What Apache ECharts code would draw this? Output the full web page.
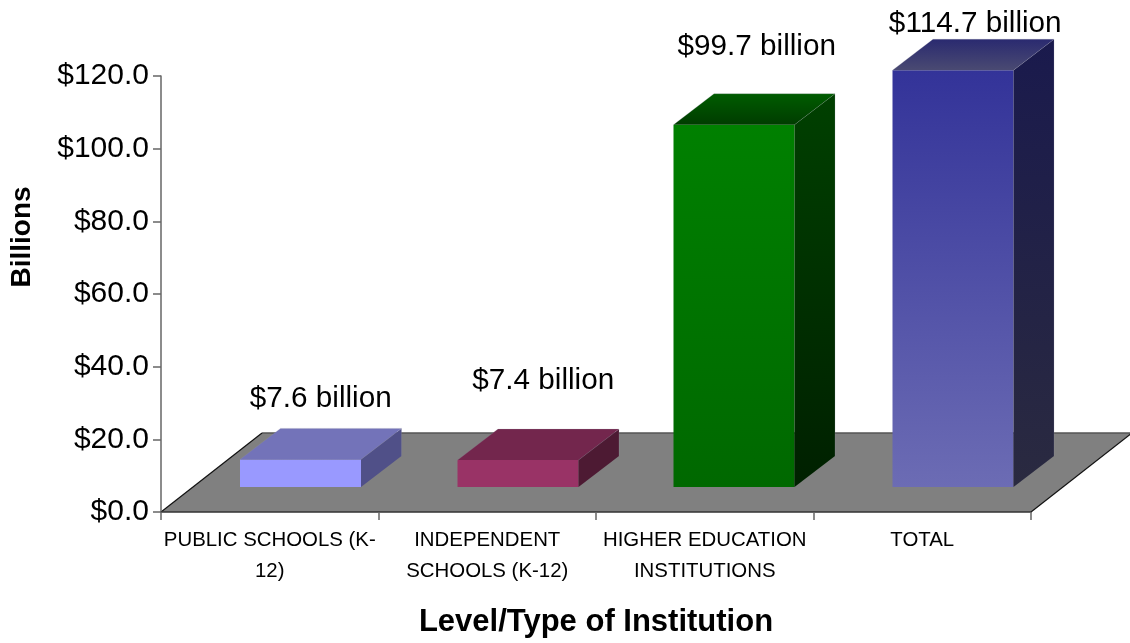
<!DOCTYPE html>
<html>
<head>
<meta charset="utf-8">
<style>html,body{margin:0;padding:0;background:#fff}#chart{width:1130px;height:643px}</style>
<script src="https://cdn.jsdelivr.net/npm/echarts@6/dist/echarts.min.js"></script>
</head>
<body>
<div id="chart"></div>
<script>
// Education spending by level and type of institution, in billions of dollars
const categories = ['PUBLIC SCHOOLS (K-\n12)', 'INDEPENDENT\nSCHOOLS (K-12)', 'HIGHER EDUCATION\nINSTITUTIONS', 'TOTAL'];
const spending = [7.6, 7.4, 99.7, 114.7];
const valueLabels = ['$7.6 billion', '$7.4 billion', '$99.7 billion', '$114.7 billion'];

// Face colours per bar: [start, end] gradient stops
const frontFaces = [['#9999ff', '#9999ff'], ['#993366', '#993366'], ['#008000', '#006800'], ['#333399', '#6c6cb4']];
const sideFaces = [['#505088', '#505088'], ['#4d1a33', '#4d1a33'], ['#004000', '#002000'], ['#1a1a4d', '#2a2a40']];
const roofFaces = [['#7373b9', '#7373b9'], ['#73264d', '#73264d'], ['#005c00', '#003c00'], ['#2a2a70', '#4a4a72']];

// Pseudo-3D projection, in screen pixels
const floorDepth = [101, -79];
const barFront = [30.75, -25];
const barDepth = [40.5, -31];
const barWidth = 121;
const barNudge = [0, 0, -1.5, 0];
const labelShift = [[51, 30], [56, 48], [52, 46.5], [53, 15]];

const vGrad = (c) => new echarts.graphic.LinearGradient(0, 0, 0, 1, [
  { offset: 0, color: c[0] }, { offset: 1, color: c[1] }
]);

function renderFloor(params, api) {
  const cs = params.coordSys;
  const l = cs.x, r = cs.x + cs.width, b = api.coord([0, 0])[1];
  const [dx, dy] = floorDepth;
  return {
    type: 'group',
    children: [
      { type: 'polygon', shape: { points: [[l, b], [r, b], [r + dx, b + dy], [l + dx, b + dy]] }, style: { fill: '#808080' } },
      { type: 'polyline', shape: { points: [[l + dx, b + dy], [r + dx, b + dy]] }, style: { stroke: '#555', lineWidth: 1.5, fill: null } },
      { type: 'polyline', shape: { points: [[l + dx, b + dy], [l, b]] }, style: { stroke: '#111', lineWidth: 1.2, fill: null } },
      { type: 'polyline', shape: { points: [[r, b], [r + dx, b + dy]] }, style: { stroke: '#111', lineWidth: 1.2, fill: null } }
    ]
  };
}

function renderBar(params, api) {
  const i = params.dataIndex;
  const c = api.coord([i, api.value(1)]);
  const zero = api.coord([i, 0]);
  const x0 = c[0] + barFront[0] - barWidth / 2 + barNudge[i];
  const x1 = x0 + barWidth;
  const yb = zero[1] + barFront[1];
  const yt = c[1] + barFront[1];
  const [dx, dy] = barDepth;
  const edge = { stroke: 'rgba(150,150,170,0.35)', lineWidth: 0.6 };
  return {
    type: 'group',
    children: [
      { type: 'polygon', shape: { points: [[x0, yt], [x1, yt], [x1, yb], [x0, yb]] }, style: { fill: vGrad(frontFaces[i]) } },
      { type: 'polygon', shape: { points: [[x1, yt], [x1 + dx, yt + dy], [x1 + dx, yb + dy], [x1, yb]] }, style: { fill: vGrad(sideFaces[i]) } },
      { type: 'polygon', shape: { points: [[x0, yt], [x0 + dx, yt + dy], [x1 + dx, yt + dy], [x1, yt]] }, style: { fill: vGrad(roofFaces[i]) } },
      { type: 'polyline', shape: { points: [[x0, yt], [x0 + dx, yt + dy], [x1 + dx, yt + dy], [x1 + dx, yb + dy]] }, style: Object.assign({ fill: null }, edge) },
      { type: 'polyline', shape: { points: [[x1, yt], [x1 + dx, yt + dy]] }, style: Object.assign({ fill: null }, edge) },
      {
        type: 'text',
        x: c[0] + labelShift[i][0],
        y: yt + dy - labelShift[i][1],
        style: {
          text: valueLabels[i], fill: '#000', align: 'center', verticalAlign: 'middle',
          font: '29.7px "Liberation Sans", Arial, sans-serif'
        }
      }
    ]
  };
}

const chart = echarts.init(document.getElementById('chart'), null, { renderer: 'canvas' });
chart.setOption({
  animation: false,
  backgroundColor: '#fff',
  textStyle: { fontFamily: '"Liberation Sans", Arial, sans-serif' },
  grid: { left: 161, right: 99, top: 76, bottom: 130, containLabel: false },
  xAxis: {
    type: 'category',
    data: categories,
    z: 5,
    axisLine: { lineStyle: { color: '#333', width: 1.5 } },
    axisTick: { show: true, length: 8, lineStyle: { color: '#666', width: 1.5 } },
    axisLabel: { color: '#000', fontSize: 20.4, lineHeight: 31, margin: 13, interval: 0 },
    name: 'Level/Type of Institution',
    nameLocation: 'middle',
    nameGap: 95,
    nameTextStyle: { color: '#000', fontSize: 31, fontWeight: 'bold' }
  },
  yAxis: {
    type: 'value',
    min: 0,
    max: 120,
    interval: 20,
    z: 5,
    axisLine: { show: true, lineStyle: { color: '#666', width: 1.5 } },
    axisTick: { show: true, length: 8, lineStyle: { color: '#666', width: 1.5 } },
    splitLine: { show: false },
    axisLabel: { color: '#000', fontSize: 30, margin: 12, padding: [8, 0, 0, 0], formatter: (v) => '$' + v.toFixed(1) }
  },
  graphic: [{
    type: 'text',
    x: 22.5,
    y: 237,
    rotation: Math.PI / 2,
    style: {
      text: 'Billions', fill: '#000', align: 'center', verticalAlign: 'middle',
      font: 'bold 28px "Liberation Sans", Arial, sans-serif'
    }
  }],
  series: [
    { type: 'custom', coordinateSystem: 'cartesian2d', clip: false, renderItem: renderFloor, data: [[0, 0]], z: 1, silent: true },
    {
      type: 'custom',
      coordinateSystem: 'cartesian2d',
      clip: false,
      renderItem: renderBar,
      encode: { x: 0, y: 1 },
      data: spending.map((v, i) => [i, v]),
      z: 2
    }
  ]
});
</script>
</body>
</html>
